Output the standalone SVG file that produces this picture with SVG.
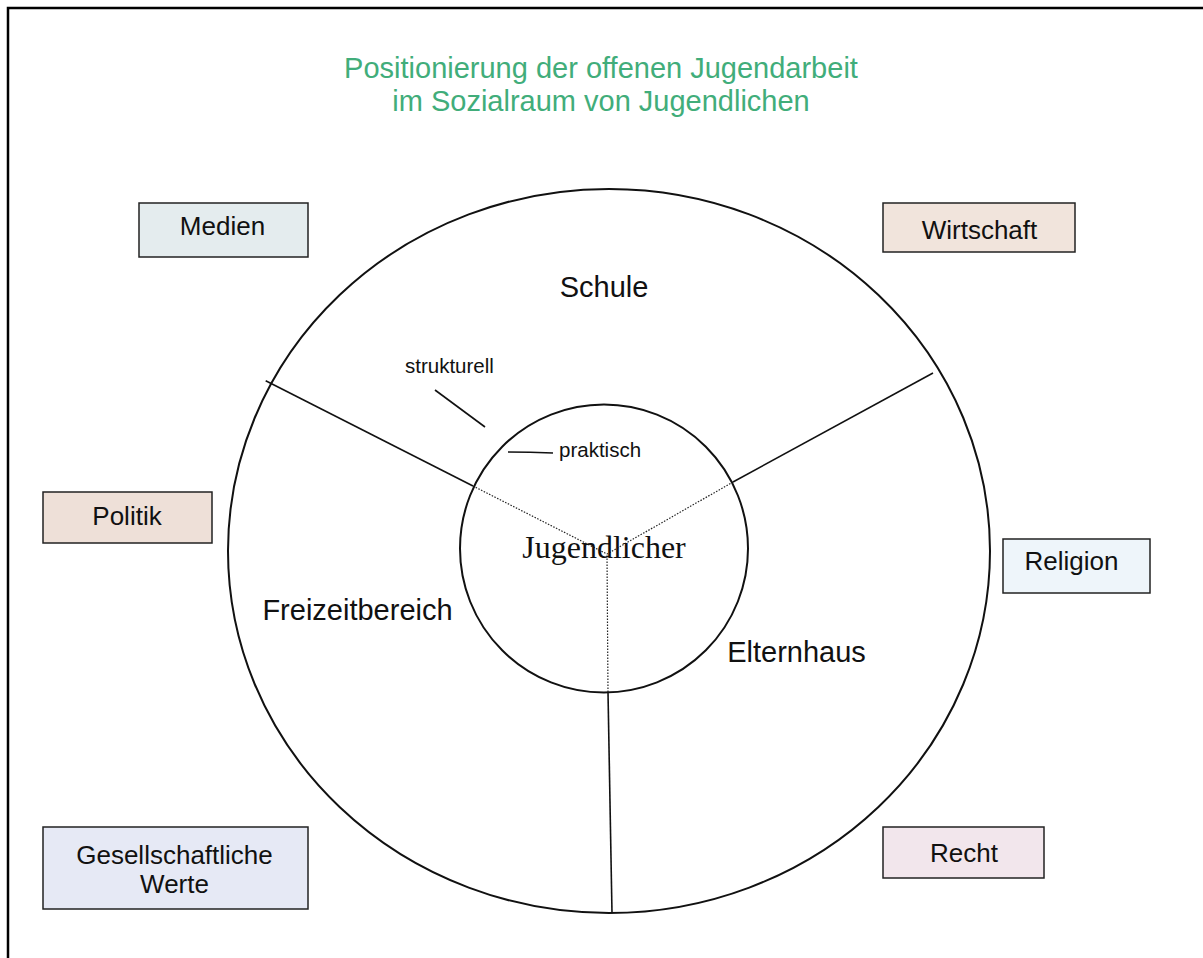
<svg xmlns="http://www.w3.org/2000/svg" width="1203" height="958" viewBox="0 0 1203 958">
<style>
.t{font-family:"Liberation Sans",Arial,sans-serif;fill:#111;}
.box{stroke:#222;stroke-width:1.5;}
.solid{stroke:#111;stroke-width:1.6;fill:none;}
.dot{stroke:#222;stroke-width:1.2;stroke-dasharray:1.5 1.5;fill:none;}
.ring{stroke:#111;stroke-width:2;fill:none;}
</style>
<rect x="0" y="0" width="1203" height="958" fill="#fff"/>
<rect x="8" y="8" width="1300" height="1000" fill="none" stroke="#000" stroke-width="2.5"/>
<g id="title">
<text class="t" x="601" y="78" font-size="29" text-anchor="middle" style="fill:#41ad7a">Positionierung der offenen Jugendarbeit</text>
<text class="t" x="601" y="111" font-size="29" text-anchor="middle" style="fill:#41ad7a">im Sozialraum von Jugendlichen</text>
</g>
<g id="outer-circle">
<ellipse class="ring" cx="609" cy="551" rx="381" ry="362"/>
<text class="t" x="604" y="297" font-size="29" text-anchor="middle">Schule</text>
<text class="t" x="357.5" y="620" font-size="29" text-anchor="middle">Freizeitbereich</text>
<text class="t" x="796.5" y="662" font-size="29" text-anchor="middle">Elternhaus</text>
</g>
<g id="connectors">
<line class="solid" x1="265.7" y1="380.7" x2="473" y2="486"/>
<line class="dot" x1="473" y1="486" x2="607" y2="554"/>
<line class="solid" x1="933" y1="373" x2="733" y2="482"/>
<line class="dot" x1="733" y1="482" x2="607" y2="554"/>
<line class="solid" x1="612" y1="913" x2="608" y2="692"/>
<line class="dot" x1="608" y1="692" x2="607" y2="554"/>
<line class="solid" x1="435" y1="390" x2="485" y2="427"/>
<path class="solid" d="M508,452 Q530,452 553,453" stroke-width="2"/>
</g>
<g id="inner-circle">
<circle class="ring" cx="604" cy="548.5" r="144"/>
<text x="604" y="558" font-size="32" text-anchor="middle" style="font-family:'Liberation Serif','Times New Roman',serif;fill:#111">Jugendlicher</text>
</g>
<g id="strukturell"><text class="t" x="405" y="373" font-size="20.5">strukturell</text></g>
<g id="praktisch"><text class="t" x="559" y="457" font-size="20.5">praktisch</text></g>
<g id="medien">
<rect class="box" x="139" y="203" width="169" height="54" fill="#e4ecee"/>
<text class="t" x="222.5" y="235" font-size="26" text-anchor="middle">Medien</text>
</g>
<g id="wirtschaft">
<rect class="box" x="883" y="203" width="192" height="49" fill="#f1e4dc"/>
<text class="t" x="979.5" y="239" font-size="26" text-anchor="middle">Wirtschaft</text>
</g>
<g id="politik">
<rect class="box" x="43" y="492" width="169" height="51" fill="#eee0d8"/>
<text class="t" x="127" y="525" font-size="26" text-anchor="middle">Politik</text>
</g>
<g id="religion">
<rect class="box" x="1003" y="539" width="147" height="54" fill="#eef5fa"/>
<text class="t" x="1071.5" y="570" font-size="26" text-anchor="middle">Religion</text>
</g>
<g id="werte">
<rect class="box" x="43" y="827" width="265" height="82" fill="#e6e9f5"/>
<text class="t" x="174.5" y="864" font-size="26" text-anchor="middle">Gesellschaftliche</text>
<text class="t" x="174.5" y="893" font-size="26" text-anchor="middle">Werte</text>
</g>
<g id="recht">
<rect class="box" x="883" y="827" width="161" height="51" fill="#f2e6ec"/>
<text class="t" x="964" y="862" font-size="26" text-anchor="middle">Recht</text>
</g>
</svg>
